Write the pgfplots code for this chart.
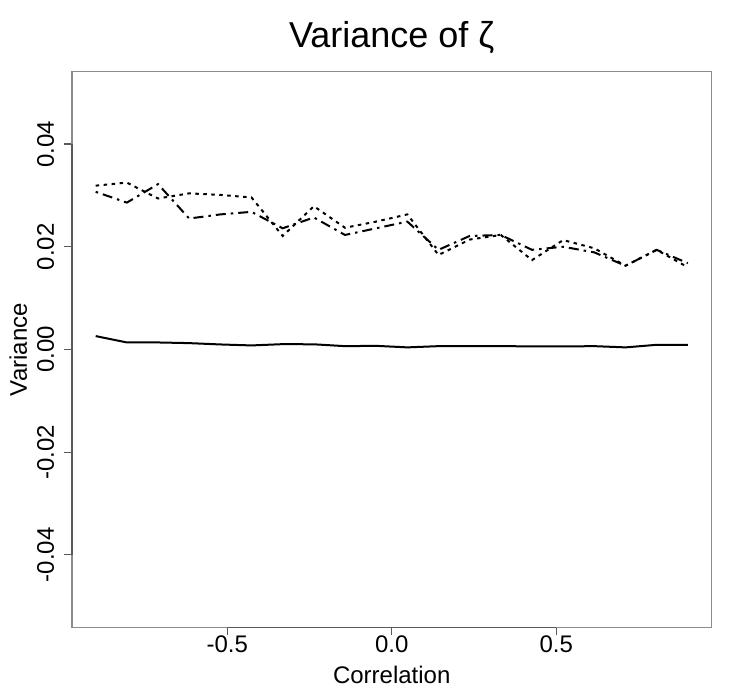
\documentclass[border=0pt]{standalone}
\usepackage{fontspec}
\setmainfont{Liberation Sans}
\usepackage{pgfplots}
\pgfplotsset{compat=1.18}
\usepackage{pgfplotstable}
\pgfplotstableread{
x       s        a       b
-0.90000 0.00260 0.0319 0.0307
-0.80526 0.00136 0.0325 0.0286
-0.71053 0.00136 0.0294 0.0322
-0.61579 0.00123 0.0304 0.0255
-0.52105 0.00097 0.0301 0.0263
-0.42632 0.00078 0.0296 0.0268
-0.33158 0.00103 0.0221 0.0236
-0.23684 0.00100 0.0279 0.0257
-0.14211 0.00064 0.0237 0.0223
-0.04737 0.00070 0.0249 0.0236
 0.04737 0.00040 0.0263 0.0249
 0.14211 0.00064 0.0184 0.0194
 0.23684 0.00064 0.0214 0.0221
 0.33158 0.00064 0.0223 0.0223
 0.42632 0.00060 0.0174 0.0194
 0.52105 0.00058 0.0213 0.0200
 0.61579 0.00064 0.0197 0.0189
 0.71053 0.00040 0.0163 0.0163
 0.80526 0.00090 0.0194 0.0194
 0.90000 0.00088 0.0160 0.0168
}\datatable
\begin{document}
\begin{tikzpicture}
\useasboundingbox (0,0) rectangle (741bp,700bp);
\begin{axis}[
  at={(72bp,72.3bp)}, anchor=south west,
  width=639.5bp, height=556bp, scale only axis,
  xmin=-0.972, xmax=0.972, ymin=-0.0542, ymax=0.0541,
  clip=false,
  axis line style={draw=black!45, line width=1.4bp},
  tick pos=left, tick align=outside,
  major tick length=7.7bp,
  tick style={draw=black!65, line width=1.2bp},
  xtick={-0.5,0,0.5}, xticklabels={-0.5,0.0,0.5},
  ytick={-0.04,-0.02,0,0.02,0.04},
  yticklabels={-0.04,-0.02,0.00,0.02,0.04},
  scaled y ticks=false, scaled x ticks=false,
  ticklabel style={font=\fontsize{24bp}{28bp}\selectfont, inner sep=0pt},
  yticklabel style={rotate=90, anchor=south, yshift=10bp},
  xticklabel style={anchor=north},
  xlabel={Correlation}, ylabel={Variance},
  label style={font=\fontsize{24bp}{28bp}\selectfont, inner sep=0pt},
  xlabel style={at={(axis description cs:0.5,0)}, anchor=base, yshift=-56bp},
  ylabel style={at={(axis description cs:-0.0704,0.5)}, rotate=0, anchor=base},
  title={Variance of ζ},
  title style={font=\fontsize{36bp}{40bp}\selectfont, inner sep=0pt, at={(axis description cs:0.5,1)}, anchor=base, yshift=18bp},
]
\addplot[black, line width=2bp] table[x=x, y=s] {\datatable};
\addplot[black, line width=2bp, dash pattern=on 3.5bp off 4.5bp] table[x=x, y=a] {\datatable};
\addplot[black, line width=2bp, dash pattern=on 2.5bp off 5bp on 10bp off 5bp] table[x=x, y=b] {\datatable};
\draw[black!65, line width=1.4bp] (axis cs:-0.5,-0.0542) -- (axis cs:0.5,-0.0542);
\draw[black!65, line width=1.4bp] (axis cs:-0.972,-0.04) -- (axis cs:-0.972,0.04);
\end{axis}
\end{tikzpicture}
\end{document}
